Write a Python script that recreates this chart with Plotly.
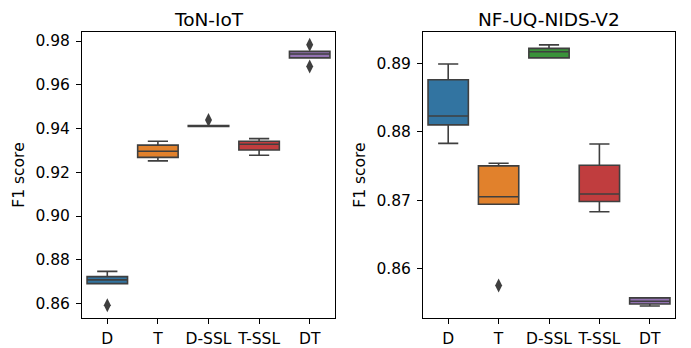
import plotly.graph_objects as go

categories = ["D", "T", "D-SSL", "T-SSL", "DT"]
colors = ["#3274A1", "#E1812C", "#3A923A", "#C03D3E", "#9372B2"]

# ToN-IoT box statistics
ton_lower = [0.8691, 0.9252, 0.9409, 0.9278, 0.9723]
ton_q1 = [0.8691, 0.9268, 0.9409, 0.9302, 0.9723]
ton_median = [0.8708, 0.9296, 0.9412, 0.9328, 0.9741]
ton_q3 = [0.8723, 0.9324, 0.9414, 0.9342, 0.9753]
ton_upper = [0.8747, 0.9342, 0.9414, 0.9354, 0.9753]
ton_out_x = ["D", "D-SSL", "DT", "DT"]
ton_out_y = [0.8592, 0.9439, 0.9783, 0.9684]

# NF-UQ-NIDS-V2 box statistics
nf_lower = [0.8783, 0.8694, 0.8908, 0.8683, 0.8545]
nf_q1 = [0.8810, 0.8694, 0.8908, 0.8698, 0.8548]
nf_median = [0.8823, 0.8705, 0.8917, 0.8709, 0.8552]
nf_q3 = [0.8876, 0.8750, 0.8922, 0.8751, 0.8557]
nf_upper = [0.8899, 0.8754, 0.8927, 0.8782, 0.8557]
nf_out_x = ["T"]
nf_out_y = [0.8575]

ton_ticks = [0.86, 0.88, 0.90, 0.92, 0.94, 0.96, 0.98]
nf_ticks = [0.86, 0.87, 0.88, 0.89]

LINE = "#3F3F3F"
FONT = "DejaVu Sans"
TICK_SIZE = 15.5
TITLE_SIZE = 18.5

fig = go.Figure()

def add_boxes(xa, ya, lower, q1, med, q3, upper, ox, oy):
    for i, c in enumerate(categories):
        fig.add_trace(go.Box(
            x=[c], q1=[q1[i]], median=[med[i]], q3=[q3[i]],
            lowerfence=[lower[i]], upperfence=[upper[i]],
            fillcolor=colors[i], line=dict(color=LINE, width=1.6),
            width=0.8, whiskerwidth=0.5, boxpoints=False,
            xaxis=xa, yaxis=ya, showlegend=False, hoverinfo="skip",
        ))
    fig.add_trace(go.Scatter(
        x=ox, y=oy, mode="markers",
        marker=dict(symbol="diamond-tall", size=10, color=LINE, line=dict(width=0)),
        xaxis=xa, yaxis=ya, showlegend=False, hoverinfo="skip",
    ))

add_boxes("x", "y", ton_lower, ton_q1, ton_median, ton_q3, ton_upper, ton_out_x, ton_out_y)
add_boxes("x2", "y2", nf_lower, nf_q1, nf_median, nf_q3, nf_upper, nf_out_x, nf_out_y)

# page body adds an 8px margin, so the figure is 8px smaller and positions shifted
W, H = 683, 340
ydom = [1 - 312 / H, 1 - 24 / H]

axis_common = dict(
    showline=True, linecolor="black", linewidth=1, mirror=True,
    ticks="outside", ticklen=5, tickwidth=1, tickcolor="black",
    showgrid=False, zeroline=False,
    tickfont=dict(family=FONT, size=TICK_SIZE, color="black"),
)

fig.update_layout(
    width=W, height=H,
    margin=dict(l=0, r=0, t=0, b=0),
    paper_bgcolor="white", plot_bgcolor="white",
    font=dict(family=FONT, size=TICK_SIZE, color="black"),
    xaxis=dict(domain=[74 / W, 327 / W], type="category",
               categoryorder="array", categoryarray=categories,
               range=[-0.5, 4.5], ticklabelstandoff=1, **axis_common),
    yaxis=dict(domain=ydom, range=[0.8533, 0.9842], tickvals=ton_ticks,
               ticktext=[f"{v:.2f}" for v in ton_ticks], ticklabelstandoff=3,
               title=dict(text="F1 score", font=dict(family=FONT, size=TICK_SIZE), standoff=6),
               **axis_common),
    xaxis2=dict(domain=[415 / W, 667 / W], type="category", anchor="y2",
                categoryorder="array", categoryarray=categories,
                range=[-0.5, 4.5], ticklabelstandoff=1, **axis_common),
    yaxis2=dict(domain=ydom, anchor="x2", range=[0.85273, 0.89461], tickvals=nf_ticks,
                ticktext=[f"{v:.2f}" for v in nf_ticks], ticklabelstandoff=3,
                title=dict(text="F1 score", font=dict(family=FONT, size=TICK_SIZE), standoff=6),
                **axis_common),
    annotations=[
        dict(text="ToN-IoT", x=(74 + 327) / 2 / W, y=1, xref="paper", yref="paper",
             showarrow=False, font=dict(family=FONT, size=TITLE_SIZE, color="black"),
             xanchor="center", yanchor="top", borderpad=0),
        dict(text="NF-UQ-NIDS-V2", x=(415 + 667) / 2 / W, y=1, xref="paper", yref="paper",
             showarrow=False, font=dict(family=FONT, size=TITLE_SIZE, color="black"),
             xanchor="center", yanchor="top", borderpad=0),
    ],
)

fig.write_html("out.html")
